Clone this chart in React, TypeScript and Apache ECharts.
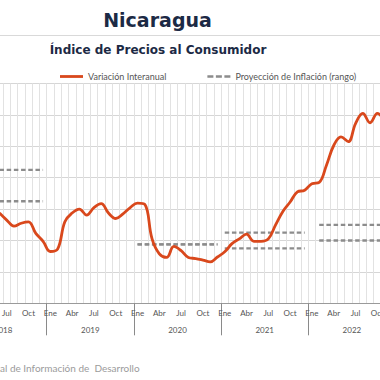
import React, { useEffect, useRef } from 'react';
import * as echarts from 'echarts';

// ---------- data ----------
const MONTH_ABBR = ['Ene', 'Feb', 'Mar', 'Abr', 'May', 'Jun', 'Jul', 'Ago', 'Sep', 'Oct', 'Nov', 'Dic'];
const YEARS = [2018, 2019, 2020, 2021, 2022];
const FIRST_MONTH = '2018-06';
const LAST_MONTH = '2022-11';

// Variación interanual (%)
const infl2018 = [5.75, 5.3, 4.92, 5.1, 5.18, 4.45, 3.95]; // Jun–Dic
const infl2019 = [3.3, 3.45, 5.2, 5.75, 6.0, 5.62, 6.1, 6.35, 5.75, 5.4, 5.7, 6.1];
const infl2020 = [6.38, 6.3, 4.1, 3.15, 2.92, 3.62, 3.35, 2.92, 2.85, 2.75, 2.64, 2.95];
const infl2021 = [3.28, 3.8, 4.1, 4.4, 3.95, 3.95, 4.1, 5.0, 5.85, 6.45, 7.1, 7.2];
const infl2022 = [7.62, 7.7, 8.8, 10.05, 10.6, 10.3, 11.45, 12.1, 11.5, 12.1, 11.6]; // Ene–Nov

// Proyección de inflación (rango)
const projYears = ['2018', '2020', '2021', '2022'];
const projStart = ['2018-01', '2020-01', '2021-01', '2022-02'];
const projEnd = ['2018-12', '2020-12', '2021-12', '2022-12'];
const projLow = [6.5, 3.75, 3.5, 4.0];
const projHigh = [8.5, 3.75, 4.5, 5.0];

const yTicks = [0, 2, 4, 6, 8, 10, 12, 14];

// ---------- build ----------
const categories: string[] = [];
YEARS.forEach((y) => {
  MONTH_ABBR.forEach((_, i) => {
    const c = `${y}-${String(i + 1).padStart(2, '0')}`;
    if (c >= FIRST_MONTH && c <= LAST_MONTH) categories.push(c);
  });
});
const inflation = [...infl2018, ...infl2019, ...infl2020, ...infl2021, ...infl2022];

const monthOf = (c: string) => parseInt(c.slice(5, 7), 10);

const OX = 20; // inner chart is shifted left by this many px (reference is cropped)
const INNER_W = 430;
const H = 380;

export default function App() {
  const ref = useRef<HTMLDivElement>(null);
  useEffect(() => {
    if (!ref.current) return;
    const chart = echarts.init(ref.current, undefined, { renderer: 'svg' });
    const PROJ = 'Proyección de Inflación (rango)';
    const INF = 'Variación Interanual';
    const projSeries: any[] = [];
    projYears.forEach((_, k) => {
      [projLow[k], projHigh[k]].forEach((v) => {
        projSeries.push({
          name: PROJ,
          type: 'line',
          symbol: 'none',
          silent: true,
          data: categories.map((c) => (c >= projStart[k] && c <= projEnd[k] ? v : null)),
          lineStyle: { color: '#8c8c8c', width: 2.3, type: [4.5, 2.7], cap: 'butt' },
          itemStyle: { color: '#8c8c8c' },
          z: 2,
        });
      });
    });
    const gridLeft = -4.17 + OX;
    const gridWidth = 392.4;
    chart.setOption({
      animation: false,
      backgroundColor: '#ffffff',
      grid: { left: gridLeft, right: INNER_W - gridLeft - gridWidth, top: 83.5, bottom: H - 303.3 },
      legend: {
        left: 55 + OX,
        top: 67,
        itemWidth: 23,
        itemHeight: 10,
        itemGap: 41,
        symbolKeepAspect: true,
        itemStyle: { borderWidth: 0 },
        textStyle: { fontFamily: 'Lato', fontSize: 9, color: '#555555' },
        data: [
          { name: INF, icon: 'path://M0,0h23v2.8h-23z' },
          { name: PROJ, icon: 'path://M0,0h6v2.3h-6zM8.5,0h6v2.3h-6zM17,0h6v2.3h-6z' },
        ],
      },
      xAxis: [
        {
          type: 'category',
          data: categories,
          boundaryGap: true,
          axisLine: { lineStyle: { color: '#9a9a9a', width: 1 } },
          axisTick: {
            show: true,
            interval: (i: number) => monthOf(categories[i]) === 1,
            length: 32,
            lineStyle: { color: '#8a8a8a', width: 1 },
          },
          axisLabel: {
            interval: (i: number) => [1, 4, 7, 10].includes(monthOf(categories[i])),
            formatter: (v: string) => MONTH_ABBR[monthOf(v) - 1],
            fontFamily: 'Lato',
            fontSize: 8,
            color: '#555555',
            margin: 6,
          },
          splitLine: { show: true, interval: 0, lineStyle: { color: '#e2e2e2', width: 1 } },
        },
        {
          type: 'category',
          data: categories,
          boundaryGap: true,
          position: 'bottom',
          axisLine: { show: false },
          axisTick: { show: false },
          splitLine: { show: false },
          axisLabel: {
            interval: (i: number) => monthOf(categories[i]) === 7,
            formatter: (v: string) => v.slice(0, 4),
            fontFamily: 'Lato',
            fontSize: 8,
            color: '#555555',
            margin: 23,
            padding: [0, 7.3, 0, 0],
          },
        },
      ],
      yAxis: {
        type: 'value',
        min: yTicks[0],
        max: yTicks[yTicks.length - 1],
        interval: 2,
        axisLabel: { show: false },
        axisLine: { show: false },
        axisTick: { show: false },
        splitLine: { lineStyle: { color: '#d6d6d6', width: 1 } },
      },
      series: [
        ...projSeries,
        {
          name: INF,
          type: 'line',
          data: inflation,
          smooth: 0.4,
          symbol: 'none',
          silent: true,
          lineStyle: { color: '#d9481c', width: 2.8 },
          itemStyle: { color: '#d9481c' },
          z: 5,
        },
      ],
      graphic: [
        {
          type: 'text',
          x: 157.5 + OX,
          y: 20,
          style: {
            text: 'Nicaragua',
            align: 'center',
            verticalAlign: 'middle',
            font: 'bold 19px "DejaVu Sans"',
            fill: '#1c2a45',
          },
        },
        {
          type: 'line',
          shape: { x1: OX, y1: 35.5, x2: OX + 380, y2: 35.5 },
          style: { stroke: '#d9d9d9', lineWidth: 1 },
        },
        {
          type: 'text',
          x: 158 + OX,
          y: 49.8,
          style: {
            text: 'Índice de Precios al Consumidor',
            align: 'center',
            verticalAlign: 'middle',
            font: 'bold 12px "DejaVu Sans"',
            fill: '#1c2a45',
          },
        },
        {
          type: 'text',
          x: OX,
          y: 367.7,
          style: {
            text: 'al de Información de  Desarrollo',
            align: 'left',
            verticalAlign: 'middle',
            font: '10px Lato',
            fill: '#9b9b9b',
          },
        },
      ],
    });
    return () => chart.dispose();
  }, []);
  return (
    <div style={{ position: 'fixed', left: 0, top: 0, width: 380, height: H, overflow: 'hidden', background: '#fff' }}>
      <div ref={ref} style={{ position: 'absolute', left: -OX, top: 0, width: INNER_W, height: H }} />
    </div>
  );
}
